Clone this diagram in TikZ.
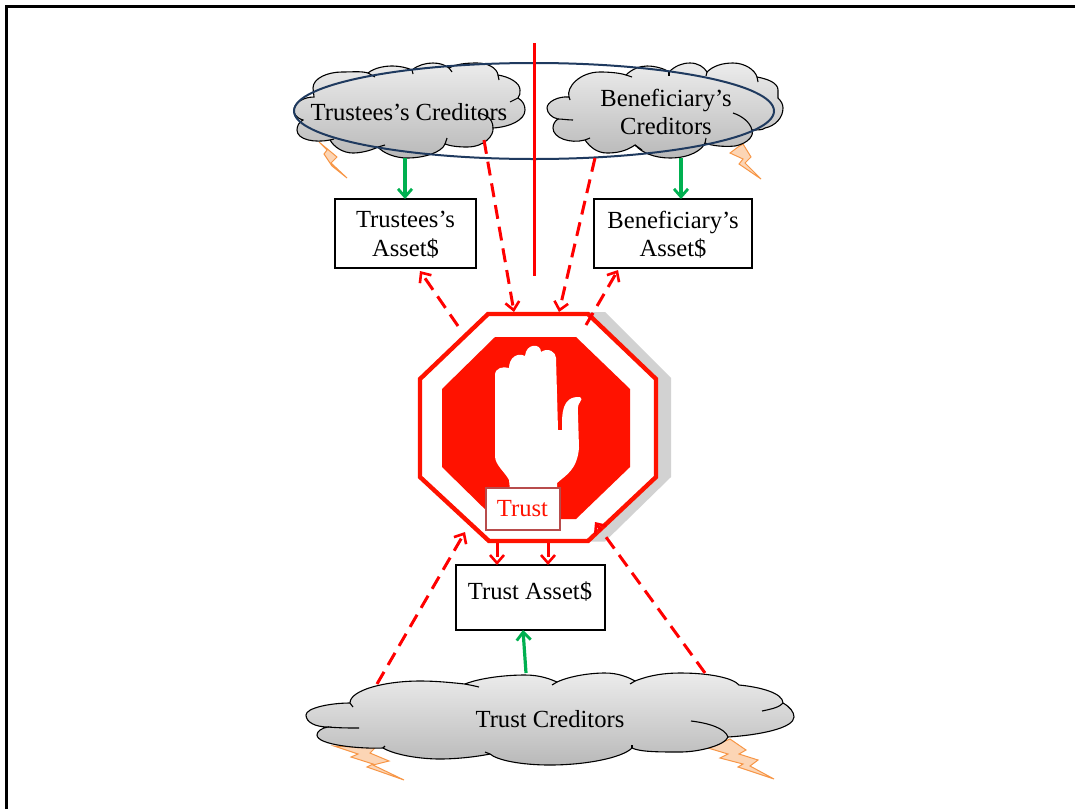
\documentclass[tikz,border=0pt]{standalone}
\usepackage{fontspec}
\setmainfont{Liberation Serif}
\usetikzlibrary{arrows.meta,shapes.geometric}
\definecolor{stopred}{HTML}{FF1200}
\definecolor{navy}{HTML}{1F3A5F}
\definecolor{dgreen}{HTML}{00B050}
\definecolor{boltfill}{HTML}{FCD5B5}
\definecolor{boltline}{HTML}{F79646}
\tikzset{
  txt/.style={font=\fontsize{24.6}{28.5}\selectfont,align=center,inner sep=0pt},
  assetbox/.style={draw=black,line width=2pt,fill=white,txt,anchor=north west,outer sep=0pt},
  cloudshape/.style={draw=black,line width=1.1pt,top color=gray!15,bottom color=gray!55,shading angle=0},
  hook/.style={draw=black,line width=1.1pt},
  bolt/.style={draw=boltline,line width=1pt,fill=boltfill},
  reddash/.style={draw=red,line width=3pt,dash pattern=on 14pt off 8pt,-{Straight Barb[length=8pt,width=14pt,line width=2.6pt]}},
  greenarrow/.style={draw=dgreen,line width=3.2pt,-{Straight Barb[length=8pt,width=14pt,line width=2.8pt]}}
}
\begin{document}
\begin{tikzpicture}[x=1pt,y=-1pt]
\useasboundingbox (0,0) rectangle (1075,809);
\draw[line width=3.5pt,black] (6.5,809) -- (6.5,6.5) -- (1075,6.5);
% bolts
\draw[bolt] (319,142)--(337,157)--(331,163)--(347,178)--(332,166)--(324,154)--(327,150)--cycle;
\draw[bolt] (743,144)--(751,157)--(745,163)--(761,179)--(739,164)--(743,159)--(730,153)--(738,147)--cycle;
\draw[bolt] (334,746)--(375,748)--(370,753)--(389,761)--(373,765)--(404,780)--(367,767)--(373,764)--(351,757)--(358,754)--cycle;
\draw[bolt] (730,739)--(746,750)--(739,754)--(758,760)--(750,766)--(774,779)--(738,767)--(743,764)--(720,758)--(728,754)--(708,748)--cycle;
% trustees cloud
\shade[cloudshape] (313,88) .. controls (313,78) and (328,72) .. (342,72) .. controls (352,72) and (362,71) .. (368,73)
 .. controls (374,68) and (384,66) .. (392,66) .. controls (400,66) and (408,68) .. (412,70)
 .. controls (418,65) and (426,63) .. (433,63) .. controls (440,63) and (445,65) .. (449,68)
 .. controls (456,64) and (466,63) .. (477,63) .. controls (488,63) and (497,68) .. (498,75)
 .. controls (510,77) and (520,83) .. (520,90) .. controls (520,93) and (520,96) .. (518,98)
 .. controls (523,101) and (525,105) .. (525,110) .. controls (525,120) and (510,127) .. (493,128)
 .. controls (494,135) and (485,147) .. (467,147) .. controls (458,147) and (450,146) .. (445,144)
 .. controls (442,152) and (425,158) .. (407,158) .. controls (395,158) and (383,153) .. (378,147)
 .. controls (370,151) and (360,153) .. (353,153) .. controls (343,153) and (334,147) .. (330,140)
 .. controls (315,143) and (297,140) .. (297,130) .. controls (297,126) and (299,122) .. (303,120)
 .. controls (296,118) and (293,113) .. (294,109) .. controls (295,103) and (303,97) .. (314,97) -- cycle;
\draw[hook] (368,73) -- (375,77);
\draw[hook] (412,70) -- (413,74);
\draw[hook] (449,68) -- (452,72);
\draw[hook] (498,75) -- (499,80);
\draw[hook] (518,98) -- (510,102);
\draw[hook] (493,128) .. controls (493,118) and (485,114) .. (478,113);
\draw[hook] (445,144) -- (447,138);
\draw[hook] (378,147) -- (385,145);
\draw[hook] (330,140) -- (334,139);
% beneficiary cloud
\shade[cloudshape] (569,97) .. controls (566,87) and (580,72) .. (600,72) .. controls (610,72) and (620,73) .. (626,75)
 .. controls (632,69) and (640,66) .. (647,66) .. controls (656,66) and (665,69) .. (669,72)
 .. controls (675,66) and (682,63) .. (690,63) .. controls (698,63) and (704,67) .. (707,72)
 .. controls (713,66) and (722,63) .. (733,63) .. controls (745,63) and (755,70) .. (757,77)
 .. controls (768,79) and (778,83) .. (778,90) .. controls (778,93) and (778,96) .. (778,98)
 .. controls (781,101) and (783,104) .. (783,108) .. controls (783,118) and (775,126) .. (765,128)
 .. controls (763,130) and (758,130) .. (752,130) .. controls (754,134) and (750,143) .. (735,146) .. controls (725,147) and (712,146) .. (705,143)
 .. controls (702,150) and (690,158) .. (670,158) .. controls (655,158) and (642,153) .. (635,145)
 .. controls (625,152) and (615,153) .. (607,153) .. controls (597,153) and (590,147) .. (585,140)
 .. controls (570,144) and (553,138) .. (553,128) .. controls (553,124) and (555,121) .. (558,119)
 .. controls (552,118) and (547,113) .. (547,108) .. controls (547,102) and (558,96) .. (569,97) -- cycle;
\draw[hook] (626,75) -- (632,77);
\draw[hook] (669,72) -- (669,76);
\draw[hook] (707,72) -- (706,76);
\draw[hook] (757,77) -- (758,82);
\draw[hook] (569,97) -- (570,100);
\draw[hook] (558,119) .. controls (562,119) and (568,120) .. (573,120);
\draw[hook] (752,130) .. controls (750,122) and (742,116) .. (733,113);
\draw[hook] (705,143) -- (706,138);
\draw[hook] (635,145) -- (642,150);
\draw[hook] (585,140) -- (590,138);
% trust creditors cloud
\shade[cloudshape] (350,703) .. controls (350,690) and (385,681) .. (420,681) .. controls (438,681) and (455,683) .. (465,684)
 .. controls (480,678) and (505,675) .. (525,675) .. controls (540,675) and (550,679) .. (557,682)
 .. controls (570,676) and (590,673) .. (605,673) .. controls (618,673) and (628,677) .. (635,681)
 .. controls (650,675) and (665,673) .. (680,673) .. controls (710,673) and (733,678) .. (739,685)
 .. controls (760,687) and (783,693) .. (783,703)
 .. controls (790,707) and (794,712) .. (794,717) .. controls (794,728) and (760,735) .. (728,737)
 .. controls (725,745) and (700,752) .. (680,752) .. controls (660,752) and (640,752) .. (632,748)
 .. controls (622,758) and (585,765) .. (550,765) .. controls (520,765) and (497,760) .. (490,754)
 .. controls (470,758) and (450,759) .. (440,759) .. controls (420,759) and (395,755) .. (383,748)
 .. controls (360,749) and (317,745) .. (317,735) .. controls (317,731) and (322,728) .. (328,727)
 .. controls (315,727) and (306,722) .. (306,715) .. controls (306,708) and (330,703) .. (350,703) -- cycle;
\draw[hook] (350,703) -- (353,707);
\draw[hook] (328,727) .. controls (340,728) and (350,728) .. (359,728);
\draw[hook] (465,684) .. controls (470,685) and (475,686) .. (479,687);
\draw[hook] (557,682) -- (552,685);
\draw[hook] (635,681) -- (630,684);
\draw[hook] (783,703) .. controls (780,707) and (772,709) .. (762,711);
\draw[hook] (728,737) .. controls (725,728) and (708,723) .. (691,721);
\draw[hook] (632,748) -- (632,745);
\draw[hook] (490,754) -- (485,752);
\draw[hook] (383,748) -- (385,746);
% ring and divider
\node[draw=navy,line width=2pt,ellipse,minimum width=480pt,minimum height=96pt,inner sep=0pt] (ring) at (534,111) {};
\coordinate (divtop) at (534,43);
\coordinate (divbot) at (534,276);
\draw[red,line width=3pt] (divtop) -- (divbot);
% stop sign
\fill[gray!35] (588,312)--(605,312)--(671,378)--(671,477)--(605,541.5)--(588,541.5)--cycle;
\draw[stopred,line width=4.4pt,fill=white] (488,314)--(588,314)--(656,379)--(656,477)--(588,541)--(489,541)--(420,477)--(420,379)--cycle;
\fill[stopred] (495,337)--(576,337)--(630,389)--(630,467)--(576,519)--(495,519)--(442,467)--(442,389)--cycle;
\fill[white] (510,490) -- (509,480) .. controls (505,472) and (495,465) .. (495,456)
  -- (495,375) .. controls (495,368) and (503,366) .. (509,368)
  .. controls (509,358) and (517,352) .. (525,356)
  .. controls (526,343) and (541,343) .. (541,352)
  .. controls (548,347) and (556,352) .. (556,358)
  -- (558,430) -- (562,430) .. controls (562,415) and (561,396) .. (580,397)
  .. controls (582,398) and (582,400) .. (580,402)
  .. controls (577,406) and (578,410) .. (578,415)
  -- (579,448) .. controls (577,470) and (566,475) .. (557,483) -- (557,490) -- cycle;
\node[draw=red!60!black!70!white,line width=2pt,fill=white,txt,minimum width=74pt,minimum height=42pt,text=stopred,outer sep=0pt] (trust) at (522.5,509) {Trust};
% boxes
\node[assetbox,minimum width=141pt,minimum height=69pt] (tb) at (335,199) {};
\node[txt] (tbt) at (405.5,235) {Trustees’s\\Asset\$};
\node[assetbox,minimum width=158pt,minimum height=69pt] (bb) at (594,199) {};
\node[txt] (bbt) at (673,235) {Beneficiary’s\\Asset\$};
\node[assetbox,minimum width=149pt,minimum height=65pt] (ab) at (456,565) {};
\node[txt] (abt) at (530,591.5) {Trust Asset\$};
% cloud labels
\node[txt] (tc) at (409,112) {Trustees’s Creditors};
\node[txt] (bc) at (666,112) {Beneficiary’s\\Creditors};
\node[txt] (ac) at (550,719) {Trust Creditors};
% connector ends
\coordinate (g1) at (405,158);
\coordinate (g1e) at (405,199);
\coordinate (g2) at (681,158);
\coordinate (g2e) at (681,199);
\coordinate (g3) at (526,673);
\coordinate (g3e) at (523,630);
\coordinate (r1) at (484,140);
\coordinate (r1e) at (514,312);
\coordinate (r2) at (595,158);
\coordinate (r2e) at (559,312);
\coordinate (r3) at (458,326);
\coordinate (r3e) at (420,271);
\coordinate (r4) at (586,325);
\coordinate (r4e) at (618,270);
\coordinate (r5) at (377,684);
\coordinate (r5e) at (465,532);
\coordinate (r6) at (705,673);
\coordinate (r6e) at (595,522);
\coordinate (d1) at (497,543);
\coordinate (d1e) at (497,565);
\coordinate (d2) at (548,543);
\coordinate (d2e) at (548,565);
\draw[greenarrow] (g1) -- (g1e);
\draw[greenarrow] (g2) -- (g2e);
\draw[greenarrow] (g3) -- (g3e);
\draw[reddash] (r1) -- (r1e);
\draw[reddash] (r2) -- (r2e);
\draw[reddash] (r3) -- (r3e);
\draw[reddash] (r4) -- (r4e);
\draw[reddash] (r5) -- (r5e);
\draw[reddash] (r6) -- (r6e);
\draw[reddash] (d1) -- (d1e);
\draw[reddash] (d2) -- (d2e);
\end{tikzpicture}
\end{document}
